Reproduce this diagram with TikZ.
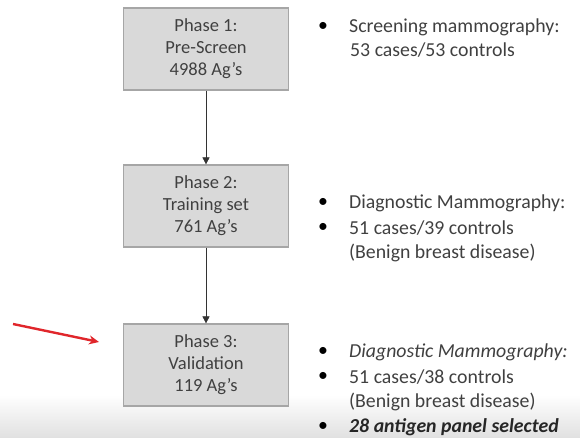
\documentclass[tikz,border=0pt]{standalone}
\usepackage{fontspec}
\setmainfont{Carlito}
\usetikzlibrary{arrows.meta}
\definecolor{boxfill}{HTML}{D9D9D9}
\definecolor{boxline}{HTML}{A6A6A6}
\definecolor{txt}{HTML}{404040}
\definecolor{redarrow}{HTML}{E0262B}
\begin{document}
\begin{tikzpicture}[x=1pt,y=-1pt,
  phasebox/.style={draw=boxline,fill=boxfill,line width=1.2pt,minimum width=165pt,minimum height=82pt,
    align=center,font=\fontsize{18.5}{22}\selectfont,text=txt,inner sep=0pt},
  flowarrow/.style={-{Triangle[length=7pt,width=7pt]},line width=0.6pt,draw=black!80},
  info/.style={anchor=west,font=\fontsize{19.8}{24}\selectfont,text=txt,inner sep=0pt,align=left},
  bul/.style={anchor=center,font=\fontsize{19.8}{24}\selectfont,text=black,inner sep=0pt}]
\useasboundingbox (0,0) rectangle (580,438);
\shade[top color=white,bottom color=black!12] (0,395) rectangle (580,438);
\node[phasebox] (p1) at (206,49) {Phase 1:\\Pre-Screen\\4988 Ag’s};
\node[phasebox] (p2) at (206,206) {Phase 2:\\Training set\\761 Ag’s};
\node[phasebox] (p3) at (206,365) {Phase 3:\\Validation\\119 Ag’s};
\draw[flowarrow] (p1.south) -- (p2.north);
\draw[flowarrow] (p2.south) -- (p3.north);
\coordinate (rs) at (13,324);
\coordinate (re) at (99,342);
\draw[redarrow,line width=2.4pt,-{Stealth[length=10pt,width=9pt]}] (rs) -- (re);
% block 1
\node[bul] (b11) at (323,27) {•};
\node[info] (t11) at (349,27) {Screening mammography:};
\node[info] (t12) at (350,50) {53 cases/53 controls};
% block 2
\node[bul] (b21) at (323,203) {•};
\node[info] (t21) at (349,203) {Diagnostic Mammography:};
\node[bul] (b22) at (323,228) {•};
\node[info] (t22) at (349,228) {51 cases/39 controls};
\node[info] (t23) at (349,253) {(Benign breast disease)};
% block 3
\node[bul] (b31) at (323,352) {•};
\node[info] (t31) at (349,352) {\itshape Diagnostic Mammography:};
\node[bul] (b32) at (323,377) {•};
\node[info] (t32) at (349,377) {51 cases/38 controls};
\node[info] (t33) at (349,402) {(Benign breast disease)};
\node[bul] (b34) at (323,427) {•};
\node[info,text=black!85] (t34) at (349,427) {\bfseries\itshape 28 antigen panel selected};
\end{tikzpicture}
\end{document}
